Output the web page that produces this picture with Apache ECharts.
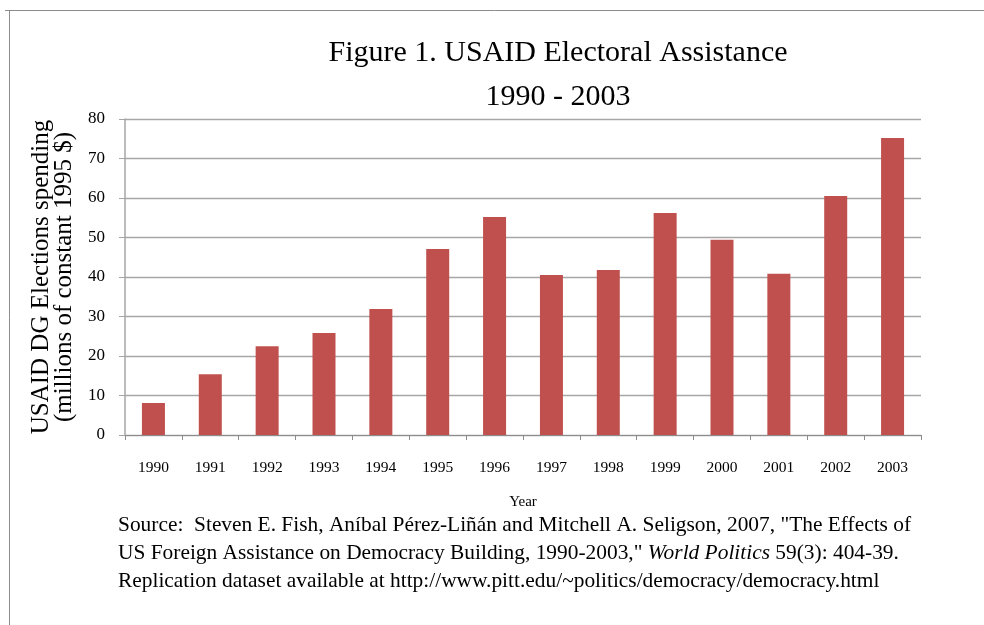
<!DOCTYPE html>
<html><head><meta charset="utf-8">
<script src="https://cdn.jsdelivr.net/npm/echarts@6/dist/echarts.min.js"></script>
<style>html,body{margin:0;padding:0;background:#fff}#c{width:984px;height:625px}</style>
</head><body><div id="c"></div>
<script>
const years = ['1990','1991','1992','1993','1994','1995','1996','1997','1998','1999','2000','2001','2002','2003'];
const spending = [8.1, 15.4, 22.5, 25.8, 31.9, 47.1, 55.2, 40.5, 41.8, 56.2, 49.4, 40.8, 60.5, 75.2];
const titleLines = ['Figure 1. USAID Electoral Assistance', '1990 - 2003'];
const yAxisName = ['USAID DG Elections spending', '(millions of constant 1995 $)'];
const xAxisName = 'Year';

const F = '"Liberation Serif", "DejaVu Serif", serif';
const chart = echarts.init(document.getElementById('c'));
chart.setOption({
  backgroundColor: '#fff',
  animation: false,
  title: {
    text: titleLines.join('\n'),
    left: 553, top: 26, textAlign: 'center',
    textStyle: {fontFamily: F, fontSize: 30, fontWeight: 'normal', color: '#000', lineHeight: 44}
  },
  grid: {left: 125, right: 63, top: 119, bottom: 190, containLabel: false},
  xAxis: {
    type: 'category', data: years,
    name: xAxisName, nameLocation: 'middle', nameGap: 60,
    nameTextStyle: {fontFamily: F, fontSize: 15, color: '#000'},
    axisLine: {lineStyle: {color: '#8c8c8c', width: 1}},
    axisTick: {show: true, alignWithLabel: false, length: 5, lineStyle: {color: '#8c8c8c'}},
    axisLabel: {fontFamily: F, fontSize: 15.5, color: '#000', margin: 25, interval: 0}
  },
  yAxis: {
    type: 'value', min: 0, max: 80, interval: 10,
    name: yAxisName.join('\n'), nameLocation: 'middle', nameGap: 45, nameRotate: 90,
    nameTextStyle: {fontFamily: F, fontSize: 25, color: '#000', lineHeight: 23},
    axisLine: {show: true, lineStyle: {color: '#a6a6a6', width: 1.5}},
    axisTick: {show: true, length: 6, lineStyle: {color: '#a6a6a6'}},
    axisLabel: {fontFamily: F, fontSize: 17, color: '#000', margin: 20},
    splitLine: {lineStyle: {color: '#a6a6a6', width: 1.3}}
  },
  series: [{
    type: 'bar', data: spending, barWidth: 23,
    itemStyle: {color: '#C0504D'}
  }],
  graphic: [
    {type: 'line', shape: {x1: 5, y1: 10.5, x2: 984, y2: 10.5}, style: {stroke: '#8c8c8c', lineWidth: 1}},
    {type: 'line', shape: {x1: 9.5, y1: 10, x2: 9.5, y2: 625}, style: {stroke: '#8c8c8c', lineWidth: 1}},
    {type: 'text', left: 118, top: 511, style: {
      text: 'Source:  Steven E. Fish, Aníbal Pérez-Liñán and Mitchell A. Seligson, 2007, "The Effects of\n' +
            'US Foreign Assistance on Democracy Building, 1990-2003," {i|World Politics} 59(3): 404-39.\n' +
            'Replication dataset available at http://www.pitt.edu/~politics/democracy/democracy.html',
      fontFamily: F, fontSize: 21.4, lineHeight: 28, fill: '#000',
      rich: {i: {fontStyle: 'italic', fontFamily: F, fontSize: 21.4, lineHeight: 28}}
    }}
  ]
});
</script></body></html>
